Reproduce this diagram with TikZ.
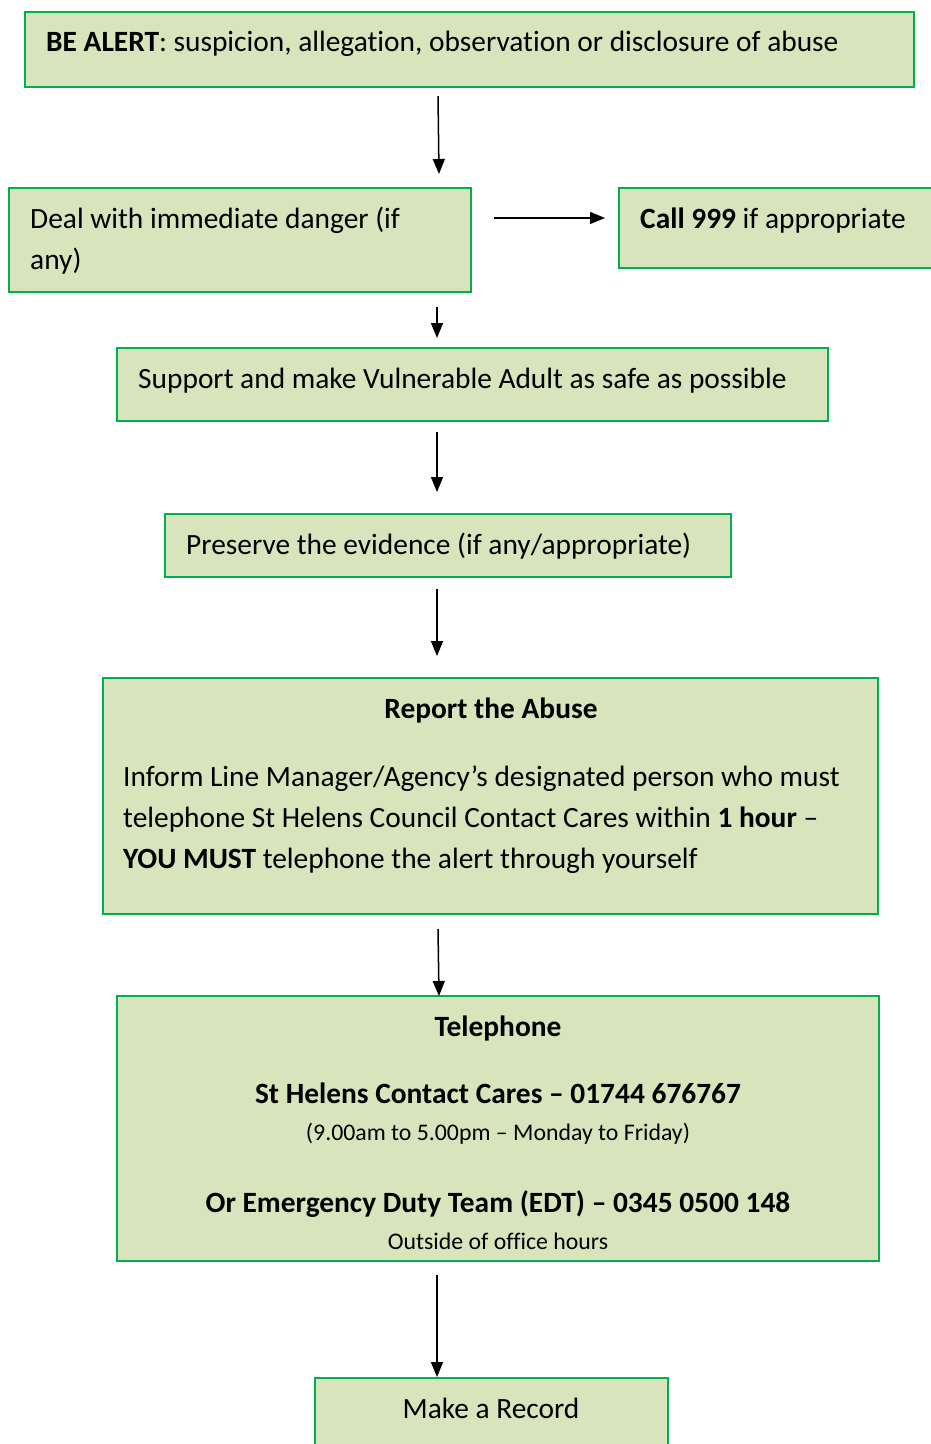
\documentclass[tikz,border=0pt]{standalone}
\usepackage{fontspec}
\setmainfont{Carlito}[Ligatures={NoCommon}]
\usetikzlibrary{arrows.meta}
\definecolor{boxfill}{HTML}{D8E4BC}
\definecolor{boxline}{HTML}{00B050}
\tikzset{
  box/.style={draw=boxline, fill=boxfill, line width=2pt, anchor=north west, inner sep=0pt, outer sep=0pt},
  txt/.style={anchor=base west, inner sep=0pt, font=\fontsize{29.4}{41}\selectfont},
  ctxt/.style={anchor=base, inner sep=0pt, font=\fontsize{29.4}{41}\selectfont},
  small/.style={anchor=base, inner sep=0pt, font=\fontsize{23.8}{28}\selectfont},
  arr/.style={line width=1.5pt, -{Triangle[width=12pt,length=15pt]}}
}
\begin{document}
\begin{tikzpicture}[x=1pt,y=-1pt]
\useasboundingbox (0,0) rectangle (931,1444);
% boxes
\node[box, minimum width=889pt, minimum height=75pt] (alert) at (25,12) {};
\node[box, minimum width=462pt, minimum height=104pt] (danger) at (9,188) {};
\node[box, minimum width=330pt, minimum height=80pt] (call) at (619,188) {};
\node[box, minimum width=711pt, minimum height=73pt] (support) at (117,348) {};
\node[box, minimum width=566pt, minimum height=63pt] (preserve) at (165,514) {};
\node[box, minimum width=775pt, minimum height=236pt] (report) at (103,678) {};
\node[box, minimum width=762pt, minimum height=265pt] (phone) at (117,996) {};
\node[box, minimum width=353pt, minimum height=90pt] (record) at (315,1378) {};
% texts
\node[txt] (t1) at (46,51) {\textbf{BE ALERT}: suspicion, allegation, observation or disclosure of abuse};
\node[txt] (t2a) at (30,228) {Deal with immediate danger (if};
\node[txt] (t2b) at (30,269) {any)};
\node[txt] (t3) at (640,228) {\textbf{Call 999} if appropriate};
\node[txt] (t4) at (138,388) {Support and make Vulnerable Adult as safe as possible};
\node[txt] (t5) at (186,554) {Preserve the evidence (if any/appropriate)};
\node[ctxt] (t6) at (491,718) {\textbf{Report the Abuse}};
\node[txt] (t6a) at (123,786) {Inform Line Manager/Agency’s designated person who must};
\node[txt] (t6b) at (123,827) {telephone St Helens Council Contact Cares within \textbf{1 hour} –};
\node[txt] (t6c) at (123,868) {\textbf{YOU MUST} telephone the alert through yourself};
\node[ctxt] (t7) at (498,1036) {\textbf{Telephone}};
\node[ctxt] (t7a) at (498,1103) {\textbf{St Helens Contact Cares – 01744 676767}};
\node[small] (t7b) at (498,1140) {(9.00am to 5.00pm – Monday to Friday)};
\node[ctxt] (t7c) at (498,1212) {\textbf{Or Emergency Duty Team (EDT) – 0345 0500 148}};
\node[small] (t7d) at (498,1249) {Outside of office hours};
\node[ctxt] (t8) at (491,1418) {Make a Record};
% arrow ends
\coordinate (a1s) at (438,96);   \coordinate (a1e) at (439,174);
\coordinate (a2s) at (494,218);  \coordinate (a2e) at (605,218);
\coordinate (a3s) at (437,307);  \coordinate (a3e) at (437,338);
\coordinate (a4s) at (437,432);  \coordinate (a4e) at (437,492);
\coordinate (a5s) at (437,589);  \coordinate (a5e) at (437,656);
\coordinate (a6s) at (438,929);  \coordinate (a6e) at (439,996);
\coordinate (a7s) at (437,1275); \coordinate (a7e) at (437,1377);
\draw[arr] (a1s) -- (a1e);
\draw[arr] (a2s) -- (a2e);
\draw[arr] (a3s) -- (a3e);
\draw[arr] (a4s) -- (a4e);
\draw[arr] (a5s) -- (a5e);
\draw[arr] (a6s) -- (a6e);
\draw[arr] (a7s) -- (a7e);
\end{tikzpicture}
\end{document}
